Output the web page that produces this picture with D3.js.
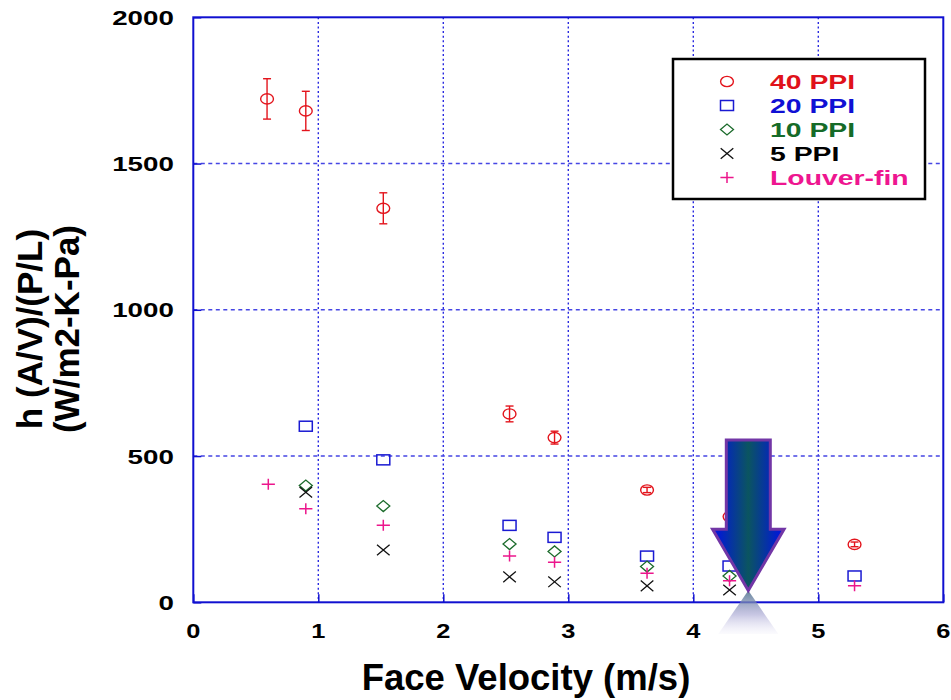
<!doctype html>
<html>
<head>
<meta charset="utf-8">
<script src="https://d3js.org/d3.v7.min.js"></script>
<style>
  body { margin: 0; padding: 0; background: #fff; }
  text { font-family: "Liberation Sans", Arial, sans-serif; font-weight: bold; }
</style>
</head>
<body>
<div id="chart"></div>
<script>
// face velocity (m/s) for each series
var vel40 = [0.59, 0.90, 1.52, 2.53, 2.89, 3.63, 4.29, 5.29];
var val40 = [1721, 1680, 1347, 644, 563, 384, 293, 198];
var err40 = [69, 67, 53, 27, 22, 9, 8, 8];

var vel20 = [0.90, 1.52, 2.53, 2.89, 3.63, 4.29, 5.29];
var val20 = [602, 487, 263, 222, 158, 124, 90];

var vel10 = [0.90, 1.52, 2.53, 2.89, 3.63, 4.29];
var val10 = [399, 329, 199, 174, 122, 90];

var vel5 = [0.90, 1.52, 2.53, 2.89, 3.63, 4.29];
var val5 = [376, 179, 87, 70, 56, 42];

var velLouver = [0.60, 0.90, 1.52, 2.53, 2.89, 3.63, 4.29, 5.29];
var valLouver = [404, 320, 263, 158, 137, 99, 74, 57];

var seriesNames = ["40 PPI", "20 PPI", "10 PPI", "5 PPI", "Louver-fin"];
var xTicks = [0, 1, 2, 3, 4, 5, 6];
var yTicks = [0, 500, 1000, 1500, 2000];

// arrow marker (points at 4.44 m/s)
var arrowX = 4.44, arrowTip = 40, arrowTop = 555, arrowNeck = 250;

var width = 951, height = 700;
var margin = {top: 17.3, right: 7.7, bottom: 97.7, left: 193.3};
var plotW = width - margin.left - margin.right,
    plotH = height - margin.top - margin.bottom;

var colors = {"40 PPI": "#e3141c", "20 PPI": "#1a1ad2", "10 PPI": "#1b6b2b", "5 PPI": "#111", "Louver-fin": "#ec168c"};
var textColors = {"40 PPI": "#e0121a", "20 PPI": "#1010d4", "10 PPI": "#156b28", "5 PPI": "#000", "Louver-fin": "#ee1690"};

var svg = d3.select("#chart").append("svg")
    .attr("width", width).attr("height", height);

function stretch(sel, sx) {
  sel.each(function() {
    var w = this.getComputedTextLength();
    d3.select(this).attr("textLength", w * sx).attr("lengthAdjust", "spacingAndGlyphs");
  });
}

var defs = svg.append("defs");
var g1 = defs.append("linearGradient").attr("id", "arrowFill")
    .attr("x1", "0%").attr("x2", "100%").attr("y1", "0%").attr("y2", "0%");
g1.append("stop").attr("offset", "0%").attr("stop-color", "#0010e8");
g1.append("stop").attr("offset", "50%").attr("stop-color", "#0b5560");
g1.append("stop").attr("offset", "100%").attr("stop-color", "#0010e8");

var g2 = defs.append("linearGradient").attr("id", "reflFill")
    .attr("x1", "0%").attr("x2", "0%").attr("y1", "0%").attr("y2", "100%");
g2.append("stop").attr("offset", "0%").attr("stop-color", "#5d7f95").attr("stop-opacity", 0.95);
g2.append("stop").attr("offset", "55%").attr("stop-color", "#9a98cc").attr("stop-opacity", 0.55);
g2.append("stop").attr("offset", "100%").attr("stop-color", "#d8d4f0").attr("stop-opacity", 0.1);

var x = d3.scaleLinear().domain([0, 6]).range([0, plotW]);
var y = d3.scaleLinear().domain([0, 2000]).range([plotH, 0]);

var plot = svg.append("g")
    .attr("transform", "translate(" + margin.left + "," + margin.top + ")");

// grid
plot.selectAll("line.vgrid").data(xTicks.slice(1, -1)).enter().append("line")
    .attr("x1", d => x(d)).attr("x2", d => x(d))
    .attr("y1", 0).attr("y2", plotH)
    .attr("stroke", "#2a2ae0").attr("stroke-width", 1.4)
    .attr("stroke-dasharray", "2,2.6");
plot.selectAll("line.hgrid").data(yTicks.slice(1, -1)).enter().append("line")
    .attr("x1", 0).attr("x2", plotW)
    .attr("y1", d => y(d)).attr("y2", d => y(d))
    .attr("stroke", "#4646e4").attr("stroke-width", 1.4)
    .attr("stroke-dasharray", "4,3.5");

// axes with inward ticks
var xAxis = plot.append("g").attr("transform", "translate(0," + plotH + ")")
    .call(d3.axisBottom(x).tickValues(xTicks).tickSize(-8).tickFormat(""));
var yAxis = plot.append("g")
    .call(d3.axisLeft(y).tickValues(yTicks).tickSize(-8).tickFormat(""));
[xAxis, yAxis].forEach(function(a) {
  a.select(".domain").remove();
  a.selectAll("line").attr("stroke", "#1010d0").attr("stroke-width", 1.5);
});
plot.append("rect").attr("width", plotW).attr("height", plotH)
    .attr("fill", "none").attr("stroke", "#1010d0").attr("stroke-width", 2);

// tick labels
plot.selectAll("text.xt").data(xTicks).enter().append("text")
    .attr("x", d => x(d)).attr("y", plotH + 35.3)
    .attr("text-anchor", "middle").attr("font-size", 20)
    .text(d => d).call(stretch, 1.27);
plot.selectAll("text.yt").data(yTicks).enter().append("text")
    .attr("x", -19.5).attr("y", d => y(d)).attr("dy", "0.36em")
    .attr("text-anchor", "end").attr("font-size", 21)
    .text(d => d).call(stretch, 1.32);

// axis titles
svg.append("text").attr("x", 526).attr("y", 690)
    .attr("text-anchor", "middle").attr("font-size", 36.5)
    .text("Face Velocity (m/s)");
var yt = svg.append("g").attr("transform", "translate(42,329) rotate(-90)");
yt.append("text").attr("text-anchor", "middle").attr("font-size", 35).text("h (A/V)/(P/L)");
yt.append("text").attr("y", 37).attr("text-anchor", "middle").attr("font-size", 35).text("(W/m2-K-Pa)");

// symbol drawers
function drawSymbol(sel, name, cx, cy) {
  var c = colors[name];
  if (name === "40 PPI") {
    sel.append("ellipse").attr("cx", cx).attr("cy", cy).attr("rx", 6.4).attr("ry", 5.1)
      .attr("fill", "none").attr("stroke", c).attr("stroke-width", 1.4);
  } else if (name === "20 PPI") {
    sel.append("rect").attr("x", cx - 6.5).attr("y", cy - 5).attr("width", 13).attr("height", 10)
      .attr("fill", "none").attr("stroke", c).attr("stroke-width", 1.5);
  } else if (name === "10 PPI") {
    sel.append("path").attr("d", "M" + (cx - 6.5) + "," + cy + "L" + cx + "," + (cy - 5.5) +
        "L" + (cx + 6.5) + "," + cy + "L" + cx + "," + (cy + 5.5) + "Z")
      .attr("fill", "none").attr("stroke", c).attr("stroke-width", 1.3);
  } else if (name === "5 PPI") {
    sel.append("path").attr("d", "M" + (cx - 6.3) + "," + (cy - 5.3) + "L" + (cx + 6.3) + "," + (cy + 5.3) +
        "M" + (cx - 6.3) + "," + (cy + 5.3) + "L" + (cx + 6.3) + "," + (cy - 5.3))
      .attr("fill", "none").attr("stroke", c).attr("stroke-width", 1.3);
  } else {
    sel.append("path").attr("d", "M" + (cx - 6.6) + "," + cy + "L" + (cx + 6.6) + "," + cy +
        "M" + cx + "," + (cy - 5.5) + "L" + cx + "," + (cy + 5.5))
      .attr("fill", "none").attr("stroke", c).attr("stroke-width", 1.5);
  }
}

// error bars for 40 PPI
var eb = plot.append("g").attr("stroke", colors["40 PPI"]).attr("stroke-width", 1.4);
vel40.forEach(function(v, i) {
  var cx = x(v), lo = y(val40[i] - err40[i]), hi = y(val40[i] + err40[i]);
  eb.append("line").attr("x1", cx).attr("x2", cx).attr("y1", lo).attr("y2", hi);
  eb.append("line").attr("x1", cx - 4).attr("x2", cx + 4).attr("y1", lo).attr("y2", lo);
  eb.append("line").attr("x1", cx - 4).attr("x2", cx + 4).attr("y1", hi).attr("y2", hi);
});

var seriesData = [
  {name: "40 PPI", xs: vel40, ys: val40},
  {name: "20 PPI", xs: vel20, ys: val20},
  {name: "10 PPI", xs: vel10, ys: val10},
  {name: "5 PPI", xs: vel5, ys: val5},
  {name: "Louver-fin", xs: velLouver, ys: valLouver}
];
var pts = plot.append("g");
seriesData.forEach(function(s) {
  s.xs.forEach(function(v, i) { drawSymbol(pts, s.name, x(v), y(s.ys[i])); });
});

// arrow with reflection
var ax = x(arrowX), tipY = y(arrowTip), topY = y(arrowTop), neckY = y(arrowNeck);
var shaftHalf = x(0.176) - x(0), headHalf = x(0.286) - x(0);
plot.append("path")
    .attr("d", "M" + (ax - headHalf * 0.5) + "," + tipY + "L" + ax + "," + tipY +
      "L" + (ax + headHalf * 0.84) + "," + (tipY + 43.5) + "L" + (ax - headHalf * 0.84) + "," + (tipY + 43.5) + "Z")
    .attr("d", "M" + ax + "," + tipY + "L" + (ax + headHalf * 0.84) + "," + (tipY + 43.5) +
      "L" + (ax - headHalf * 0.84) + "," + (tipY + 43.5) + "Z")
    .attr("fill", "url(#reflFill)");
plot.append("path")
    .attr("d", "M" + (ax - shaftHalf) + "," + topY + "L" + (ax + shaftHalf) + "," + topY +
      "L" + (ax + shaftHalf) + "," + neckY + "L" + (ax + headHalf) + "," + neckY +
      "L" + ax + "," + tipY + "L" + (ax - headHalf) + "," + neckY +
      "L" + (ax - shaftHalf) + "," + neckY + "Z")
    .attr("fill", "url(#arrowFill)").attr("stroke", "#7236a6").attr("stroke-width", 3)
    .attr("stroke-linejoin", "miter");

// legend
var leg = svg.append("g");
leg.append("rect").attr("x", 673).attr("y", 59).attr("width", 252).attr("height", 140)
    .attr("fill", "#fff").attr("stroke", "#000").attr("stroke-width", 2.5);
seriesNames.forEach(function(n, i) {
  var cy = 81.5 + i * 24;
  drawSymbol(leg, n, 727, cy);
  leg.append("text").attr("x", 770).attr("y", cy + 7.5)
    .attr("font-size", 21).attr("fill", textColors[n]).text(n).call(stretch, 1.35);
});
</script>
</body>
</html>
